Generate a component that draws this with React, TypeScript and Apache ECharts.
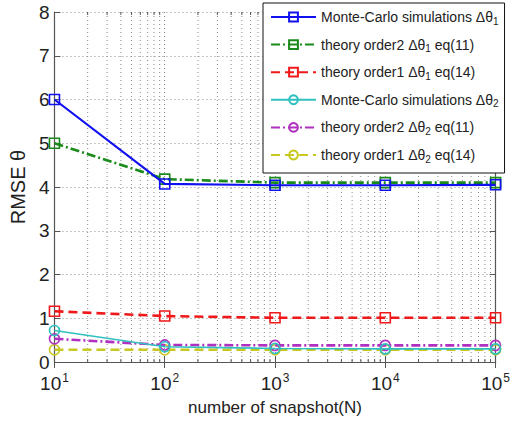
import React, { useEffect, useRef } from "react";
import * as echarts from "echarts";

// number of snapshots N
const snapshots = [10, 100, 1000, 10000, 100000];

// RMSE of theta for each method
const mcTheta1 = [6.0, 4.07, 4.04, 4.04, 4.05];
const order2Theta1 = [5.0, 4.18, 4.1, 4.1, 4.1];
const order1Theta1 = [1.16, 1.05, 1.01, 1.01, 1.01];
const mcTheta2 = [0.72, 0.35, 0.31, 0.3, 0.3];
const order2Theta2 = [0.53, 0.39, 0.38, 0.38, 0.38];
const order1Theta2 = [0.28, 0.28, 0.28, 0.28, 0.28];

// legend texts: main part, subscript, trailing part
const legendMain = [
  "Monte-Carlo simulations Δθ",
  "theory order2 Δθ",
  "theory order1 Δθ",
  "Monte-Carlo simulations Δθ",
  "theory order2 Δθ",
  "theory order1 Δθ",
];
const legendSub = ["1", "1", "1", "2", "2", "2"];
const legendTail = ["", " eq(11)", " eq(14)", "", " eq(11)", " eq(14)"];

const yTicks = [0, 1, 2, 3, 4, 5, 6, 7, 8];
const decades = [10, 100, 1000, 10000];

const FONT = "Liberation Sans, Arial, sans-serif";
const Y_MIN = 0;
const Y_MAX = 8;

export default function App() {
  const ref = useRef<HTMLDivElement>(null);

  useEffect(() => {
    if (!ref.current) return;
    const chart = echarts.init(ref.current, undefined, { renderer: "svg" });

    const names = legendMain.map((m, i) => m + legendSub[i] + legendTail[i]);
    const pairs = (ys: number[]) => snapshots.map((x, i) => [x, ys[i]]);

    const dashDot = [9, 3, 2, 3];
    const styles = [
      { data: mcTheta1, color: "#1010f0", type: "solid", width: 2.2, symbol: "rect" },
      { data: order2Theta1, color: "#1a8a1a", type: dashDot, width: 2.6, symbol: "rect" },
      { data: order1Theta1, color: "#f01818", type: [9, 5], width: 2.6, symbol: "rect" },
      { data: mcTheta2, color: "#30c0c0", type: "solid", width: 1.6, symbol: "circle" },
      { data: order2Theta2, color: "#b030c0", type: dashDot, width: 2.6, symbol: "circle" },
      { data: order1Theta2, color: "#c8c820", type: [9, 5], width: 2.6, symbol: "circle" },
    ];

    // minor log grid positions at 2..9 x each decade
    const minorValues: number[][] = [];
    decades.forEach((d) => {
      for (let k = 2; k <= 9; k++) minorValues.push([k * d, Y_MIN]);
    });

    const series: any[] = styles.map((s, i) => ({
      name: names[i],
      type: "line",
      data: pairs(s.data),
      symbol: s.symbol,
      symbolSize: 10,
      showAllSymbol: true,
      z: 10 - i,
      lineStyle: { color: s.color, width: s.width, type: s.type },
      itemStyle: { color: "rgba(255,255,255,0)", borderColor: s.color, borderWidth: 1.6 },
    }));

    // dotted minor grid lines plus small inward minor ticks on top and bottom
    series.push({
      name: "minor-grid",
      type: "custom",
      silent: true,
      z: 1,
      data: minorValues,
      encode: { x: 0, y: 1 },
      renderItem: (_params: any, api: any) => {
        const x = api.value(0);
        const top = api.coord([x, Y_MAX]);
        const bot = api.coord([x, Y_MIN]);
        return {
          type: "group",
          children: [
            {
              type: "line",
              shape: { x1: top[0], y1: top[1], x2: bot[0], y2: bot[1] },
              style: { stroke: "#8c8c8c", lineWidth: 1, lineDash: [1, 3] },
            },
            {
              type: "line",
              shape: { x1: bot[0], y1: bot[1], x2: bot[0], y2: bot[1] - 3 },
              style: { stroke: "#555", lineWidth: 1 },
            },
            {
              type: "line",
              shape: { x1: top[0], y1: top[1], x2: top[0], y2: top[1] + 3 },
              style: { stroke: "#555", lineWidth: 1 },
            },
          ],
        };
      },
    });

    const legendLookup: Record<string, number> = {};
    names.forEach((n, i) => (legendLookup[n] = i));

    chart.setOption({
      animation: false,
      backgroundColor: "#ffffff",
      textStyle: { fontFamily: FONT },
      grid: { left: 43, right: 8, top: 12, bottom: 61, containLabel: false },
      legend: {
        data: names,
        orient: "vertical",
        left: 263,
        top: 3,
        padding: [5, 6, 9, 7],
        itemWidth: 45,
        itemHeight: 11,
        itemGap: 9.6,
        backgroundColor: "#ffffff",
        borderColor: "#111111",
        borderWidth: 1,
        borderRadius: 0,
        selectedMode: false,
        formatter: (name: string) => {
          const i = legendLookup[name];
          return `{t|${legendMain[i]}}{s|${legendSub[i]}}{t|${legendTail[i]}}`;
        },
        textStyle: {
          fontFamily: FONT,
          fontSize: 14,
          color: "#222",
          lineHeight: 18,
          rich: {
            t: { fontFamily: FONT, fontSize: 14, color: "#222", lineHeight: 18 },
            s: { fontFamily: FONT, fontSize: 10, color: "#222", lineHeight: 18, verticalAlign: "bottom", padding: [8, 0, 0, 0] },
          },
        },
      },
      xAxis: [
        {
          type: "log",
          logBase: 10,
          min: 10,
          max: 100000,
          name: "number of snapshot(N)",
          nameLocation: "middle",
          nameGap: 36,
          nameTextStyle: { fontFamily: FONT, fontSize: 17, color: "#222" },
          axisLine: { show: true, lineStyle: { color: "#555", width: 1.2 } },
          axisTick: { show: true, inside: true, length: 6, lineStyle: { color: "#555" } },
          splitLine: { show: true, lineStyle: { type: [1, 3], color: "#8c8c8c", width: 1 } },
          axisLabel: {
            margin: 10,
            formatter: (v: number) => `{b|10}{s|${Math.round(Math.log10(v))}}`,
            rich: {
              b: { fontFamily: FONT, fontSize: 19, color: "#222", lineHeight: 22 },
              s: { fontFamily: FONT, fontSize: 12, color: "#222", lineHeight: 22, verticalAlign: "top", padding: [0, 0, 10, 1] },
            },
          },
        },
        {
          type: "log",
          logBase: 10,
          min: 10,
          max: 100000,
          position: "top",
          axisLine: { show: true, lineStyle: { color: "#555", width: 1.2 } },
          axisTick: { show: true, inside: true, length: 6, lineStyle: { color: "#555" } },
          axisLabel: { show: false },
          splitLine: { show: false },
        },
      ],
      yAxis: [
        {
          type: "value",
          min: Y_MIN,
          max: Y_MAX,
          interval: 1,
          name: "RMSE θ",
          nameLocation: "middle",
          nameGap: 17,
          nameTextStyle: { fontFamily: FONT, fontSize: 20, color: "#222" },
          axisLine: { show: true, lineStyle: { color: "#555", width: 1.2 } },
          axisTick: { show: true, inside: true, length: 6, lineStyle: { color: "#555" } },
          splitLine: { show: true, lineStyle: { type: [1, 3], color: "#8c8c8c", width: 1 } },
          axisLabel: {
            margin: 5,
            fontFamily: FONT,
            fontSize: 19,
            color: "#222",
            formatter: (v: number) => (yTicks.includes(v) ? String(v) : ""),
          },
        },
        {
          type: "value",
          min: Y_MIN,
          max: Y_MAX,
          interval: 1,
          position: "right",
          axisLine: { show: true, lineStyle: { color: "#555", width: 1.2 } },
          axisTick: { show: true, inside: true, length: 6, lineStyle: { color: "#555" } },
          axisLabel: { show: false },
          splitLine: { show: false },
        },
      ],
      series,
    });

    return () => chart.dispose();
  }, []);

  return (
    <div
      ref={ref}
      style={{ position: "fixed", left: 0, top: 0, width: 513, height: 423, background: "#fff" }}
    />
  );
}
